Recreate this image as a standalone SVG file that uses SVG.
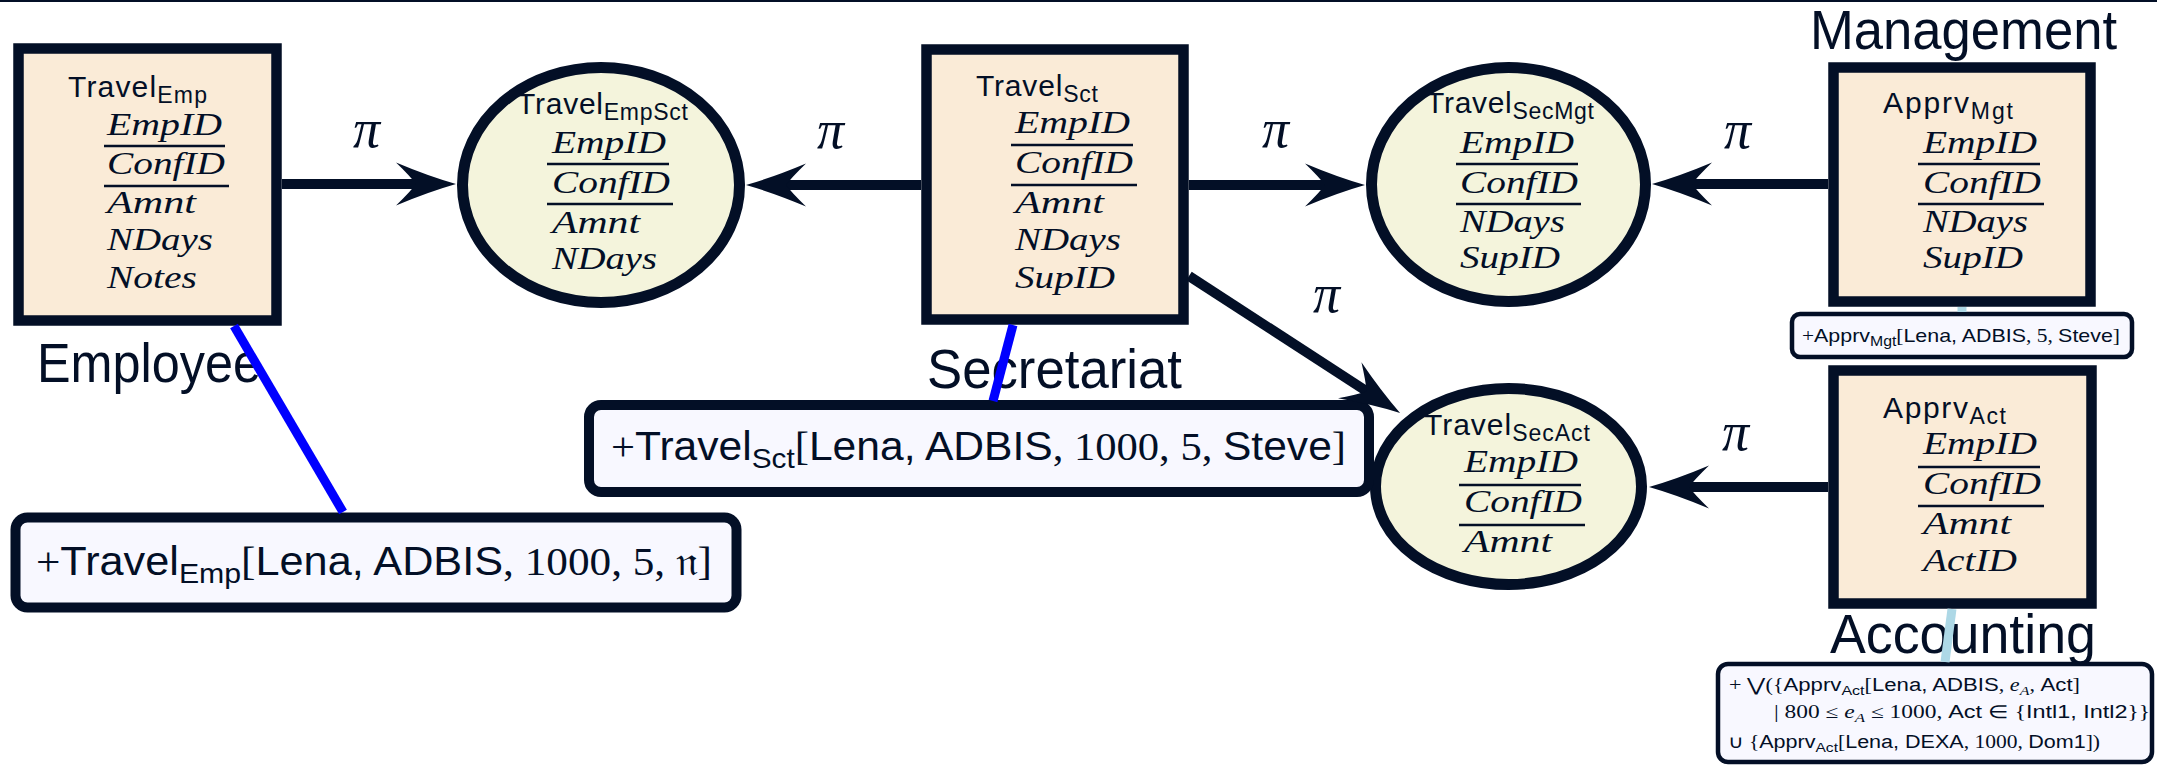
<svg xmlns="http://www.w3.org/2000/svg" width="2157" height="765" viewBox="0 0 2157 765">
<style>
.nd{fill:#FAEBD7;stroke:#030f26;stroke-width:10.5}
.el{fill:#F4F4DC;stroke:#030f26;stroke-width:11}
.lb{fill:#F8F8FF;stroke:#030f26;stroke-width:10}
.lbt{fill:#F8F8FF;stroke:#030f26;stroke-width:4.5}
.ttl{font-family:"Liberation Sans",Arial,sans-serif;font-size:30px;fill:#030f26}
.sub{font-size:23px}
.att{font-family:"Liberation Serif","Times New Roman",serif;font-style:italic;font-size:32px;fill:#030f26}
.ul{stroke:#030f26;stroke-width:2.5}
.big{font-family:"Liberation Sans",Arial,sans-serif;font-size:56px;fill:#030f26}
.pi{font-family:"Liberation Serif","Times New Roman",serif;font-style:italic;font-size:54px;fill:#030f26}
.lt{font-family:"Liberation Sans",Arial,sans-serif;font-size:40px;fill:#030f26}
.lsub{font-size:28px}
.st{font-family:"Liberation Sans",Arial,sans-serif;font-size:19px;fill:#030f26}
.ssub{font-size:14px}
.ft{font-family:"Liberation Sans",Arial,sans-serif;font-size:18px;fill:#030f26}
.fsub{font-size:13px}
.rm{font-family:"Liberation Serif","Times New Roman",serif}
.it{font-family:"Liberation Serif","Times New Roman",serif;font-style:italic}
.conn{stroke:#030f26;stroke-width:10;fill:none;marker-end:url(#ah)}
.blue{stroke:#0000FF;stroke-width:9;fill:none}
.lblue{stroke:#ADD8E6;stroke-width:9;fill:none}
</style>
<defs>
<marker id="ah" markerUnits="userSpaceOnUse" markerWidth="80" markerHeight="60" viewBox="-40 -30 80 60" refX="0" refY="0" orient="auto" overflow="visible">
<path d="M30,0 Q2,-8 -30,-21.5 Q-16,-8 -10,0 Q-16,8 -30,21.5 Q2,8 30,0 Z" fill="#030f26"/>
</marker>
</defs>
<rect x="0" y="0" width="2157" height="2" fill="#030f26"/>

<g id="employee">
<rect class="nd" x="18.5" y="48.5" width="258" height="272"/>
<text class="ttl" x="68" y="97" textLength="139">Travel<tspan class="sub" dy="6">Emp</tspan></text>
<text class="att" x="107" y="135" textLength="115" lengthAdjust="spacingAndGlyphs">EmpID</text>
<line class="ul" x1="104" y1="146" x2="225" y2="146"/>
<text class="att" x="107" y="174" textLength="118" lengthAdjust="spacingAndGlyphs">ConfID</text>
<line class="ul" x1="104" y1="186" x2="229" y2="186"/>
<text class="att" x="107" y="213" textLength="89" lengthAdjust="spacingAndGlyphs">Amnt</text>
<text class="att" x="107" y="250" textLength="106" lengthAdjust="spacingAndGlyphs">NDays</text>
<text class="att" x="107" y="288" textLength="90" lengthAdjust="spacingAndGlyphs">Notes</text>
<text class="big" x="37" y="382" textLength="224" lengthAdjust="spacingAndGlyphs">Employee</text>
</g>

<g id="travel-empsct">
<ellipse class="el" cx="601" cy="185" rx="138.5" ry="117.5"/>
<text class="ttl" x="517" y="114" textLength="171">Travel<tspan class="sub" dy="6">EmpSct</tspan></text>
<text class="att" x="552" y="153" textLength="114" lengthAdjust="spacingAndGlyphs">EmpID</text>
<line class="ul" x1="547" y1="164" x2="669" y2="164"/>
<text class="att" x="552" y="193" textLength="118" lengthAdjust="spacingAndGlyphs">ConfID</text>
<line class="ul" x1="547" y1="204" x2="673" y2="204"/>
<text class="att" x="552" y="233" textLength="88" lengthAdjust="spacingAndGlyphs">Amnt</text>
<text class="att" x="552" y="269" textLength="105" lengthAdjust="spacingAndGlyphs">NDays</text>
</g>

<g id="secretariat">
<rect class="nd" x="926.5" y="49.5" width="257" height="270"/>
<text class="ttl" x="976" y="96" textLength="122">Travel<tspan class="sub" dy="6">Sct</tspan></text>
<text class="att" x="1015" y="133" textLength="115" lengthAdjust="spacingAndGlyphs">EmpID</text>
<line class="ul" x1="1011" y1="145" x2="1133" y2="145"/>
<text class="att" x="1015" y="173" textLength="118" lengthAdjust="spacingAndGlyphs">ConfID</text>
<line class="ul" x1="1011" y1="185" x2="1137" y2="185"/>
<text class="att" x="1015" y="213" textLength="89" lengthAdjust="spacingAndGlyphs">Amnt</text>
<text class="att" x="1015" y="250" textLength="106" lengthAdjust="spacingAndGlyphs">NDays</text>
<text class="att" x="1015" y="288" textLength="100" lengthAdjust="spacingAndGlyphs">SupID</text>
<text class="big" x="927" y="388" textLength="255" lengthAdjust="spacingAndGlyphs">Secretariat</text>
</g>

<g id="travel-secmgt">
<ellipse class="el" cx="1508.5" cy="184.5" rx="137" ry="117"/>
<text class="ttl" x="1426" y="113" textLength="168">Travel<tspan class="sub" dy="6">SecMgt</tspan></text>
<text class="att" x="1460" y="153" textLength="114" lengthAdjust="spacingAndGlyphs">EmpID</text>
<line class="ul" x1="1456" y1="164" x2="1578" y2="164"/>
<text class="att" x="1460" y="193" textLength="118" lengthAdjust="spacingAndGlyphs">ConfID</text>
<line class="ul" x1="1456" y1="204" x2="1581" y2="204"/>
<text class="att" x="1460" y="232" textLength="105" lengthAdjust="spacingAndGlyphs">NDays</text>
<text class="att" x="1460" y="268" textLength="100" lengthAdjust="spacingAndGlyphs">SupID</text>
</g>

<g id="management">
<rect class="nd" x="1833.5" y="67.5" width="257" height="234"/>
<text class="ttl" x="1883" y="113" textLength="130">Apprv<tspan class="sub" dy="6">Mgt</tspan></text>
<text class="att" x="1923" y="153" textLength="114" lengthAdjust="spacingAndGlyphs">EmpID</text>
<line class="ul" x1="1918" y1="164" x2="2040" y2="164"/>
<text class="att" x="1923" y="193" textLength="118" lengthAdjust="spacingAndGlyphs">ConfID</text>
<line class="ul" x1="1918" y1="204" x2="2044" y2="204"/>
<text class="att" x="1923" y="232" textLength="105" lengthAdjust="spacingAndGlyphs">NDays</text>
<text class="att" x="1923" y="268" textLength="100" lengthAdjust="spacingAndGlyphs">SupID</text>
<text class="big" x="1810" y="49" textLength="307" lengthAdjust="spacingAndGlyphs">Management</text>
</g>

<g id="travel-secact">
<ellipse class="el" cx="1508.5" cy="486.5" rx="133" ry="98"/>
<text class="ttl" x="1424" y="435" textLength="166">Travel<tspan class="sub" dy="6">SecAct</tspan></text>
<text class="att" x="1464" y="472" textLength="114" lengthAdjust="spacingAndGlyphs">EmpID</text>
<line class="ul" x1="1459" y1="485" x2="1581" y2="485"/>
<text class="att" x="1464" y="512" textLength="118" lengthAdjust="spacingAndGlyphs">ConfID</text>
<line class="ul" x1="1459" y1="525" x2="1585" y2="525"/>
<text class="att" x="1464" y="552" textLength="88" lengthAdjust="spacingAndGlyphs">Amnt</text>
</g>

<g id="accounting">
<rect class="nd" x="1833.5" y="370.5" width="258" height="233"/>
<text class="ttl" x="1883" y="418" textLength="123">Apprv<tspan class="sub" dy="6">Act</tspan></text>
<text class="att" x="1923" y="454" textLength="114" lengthAdjust="spacingAndGlyphs">EmpID</text>
<line class="ul" x1="1918" y1="467" x2="2040" y2="467"/>
<text class="att" x="1923" y="494" textLength="118" lengthAdjust="spacingAndGlyphs">ConfID</text>
<line class="ul" x1="1918" y1="506" x2="2044" y2="506"/>
<text class="att" x="1923" y="534" textLength="88" lengthAdjust="spacingAndGlyphs">Amnt</text>
<text class="att" x="1923" y="571" textLength="94" lengthAdjust="spacingAndGlyphs">ActID</text>
<text class="big" x="1830" y="653" textLength="266" lengthAdjust="spacingAndGlyphs">Accounting</text>
</g>

<g id="label-emp">
<rect class="lb" x="15.5" y="517.5" width="721" height="90" rx="12"/>
<text class="lt" x="36" y="575" textLength="676" lengthAdjust="spacingAndGlyphs"><tspan class="rm">+</tspan>Travel<tspan class="lsub" dy="8">Emp</tspan><tspan class="rm" dy="-8">[</tspan>Lena, ADBIS<tspan class="rm">, 1000, 5, </tspan>𝔫<tspan class="rm">]</tspan></text>
</g>

<g id="label-sct">
<rect class="lb" x="589" y="405" width="780" height="87" rx="12"/>
<text class="lt" x="611" y="460" textLength="735" lengthAdjust="spacingAndGlyphs"><tspan class="rm">+</tspan>Travel<tspan class="lsub" dy="8">Sct</tspan><tspan class="rm" dy="-8">[</tspan>Lena, ADBIS<tspan class="rm">, 1000, 5, </tspan>Steve<tspan class="rm">]</tspan></text>
</g>

<g id="label-mgt">
<rect class="lbt" x="1792" y="314" width="340" height="43" rx="8"/>
<text class="st" x="1802" y="342" textLength="318" lengthAdjust="spacingAndGlyphs"><tspan class="rm">+</tspan>Apprv<tspan class="ssub" dy="4">Mgt</tspan><tspan class="rm" dy="-4">[</tspan>Lena, ADBIS<tspan class="rm">, 5, </tspan>Steve<tspan class="rm">]</tspan></text>
</g>

<g id="label-act">
<rect class="lbt" x="1718" y="664" width="434" height="98" rx="10"/>
<text class="ft" x="1729" y="691" textLength="351" lengthAdjust="spacingAndGlyphs"><tspan class="rm">+ </tspan>⋁<tspan class="rm">({</tspan>Apprv<tspan class="fsub" dy="4">Act</tspan><tspan class="rm" dy="-4">[</tspan>Lena, ADBIS<tspan class="rm">, </tspan><tspan class="it">e</tspan><tspan class="it fsub" dy="4">A</tspan><tspan class="rm" dy="-4">, </tspan>Act<tspan class="rm">]</tspan></text>
<text class="ft" x="1774" y="718" textLength="376" lengthAdjust="spacingAndGlyphs"><tspan class="rm">| 800 ≤ </tspan><tspan class="it">e</tspan><tspan class="it fsub" dy="4">A</tspan><tspan class="rm" dy="-4"> ≤ 1000, </tspan>Act<tspan class="rm"> ∈ {</tspan>Intl1, Intl2<tspan class="rm">}}</tspan></text>
<text class="ft" x="1728" y="748" textLength="372" lengthAdjust="spacingAndGlyphs"><tspan class="rm">∪ {</tspan>Apprv<tspan class="fsub" dy="4">Act</tspan><tspan class="rm" dy="-4">[</tspan>Lena, DEXA<tspan class="rm">, 1000, </tspan>Dom1<tspan class="rm">])</tspan></text>
</g>

<g id="connectors">
<line class="conn" x1="282" y1="184" x2="426" y2="184"/>
<line class="conn" x1="921" y1="185" x2="776" y2="185"/>
<line class="conn" x1="1189" y1="185" x2="1335" y2="185"/>
<line class="conn" x1="1828" y1="184" x2="1682" y2="184"/>
<line class="conn" x1="1189" y1="276" x2="1374.9" y2="396.6"/>
<line class="conn" x1="1828" y1="487" x2="1679" y2="487"/>
<line class="blue" x1="234" y1="326" x2="343" y2="512"/>
<line class="blue" x1="1013" y1="325" x2="993" y2="401"/>
<line class="lblue" x1="1962" y1="307" x2="1962" y2="312"/>
<line class="lblue" x1="1952" y1="609" x2="1945" y2="662"/>
<text class="pi" x="353" y="147">π</text>
<text class="pi" x="817" y="148">π</text>
<text class="pi" x="1262" y="147">π</text>
<text class="pi" x="1724" y="148">π</text>
<text class="pi" x="1313" y="312">π</text>
<text class="pi" x="1722" y="450">π</text>
</g>
</svg>
